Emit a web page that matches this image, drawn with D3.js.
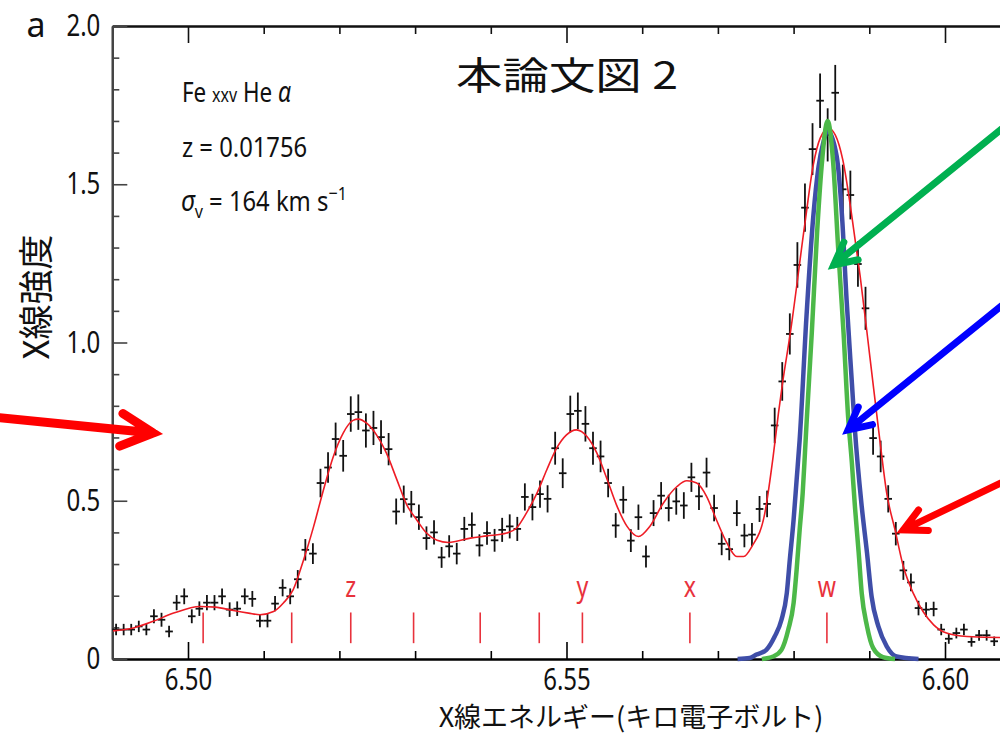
<!DOCTYPE html>
<html>
<head>
<meta charset="utf-8">
<script src="https://cdn.jsdelivr.net/npm/d3@7"></script>
<style>
body { margin: 0; background: #fff; }
svg text { font-family: "Noto Sans", "Open Sans", sans-serif; }
svg text.jp { font-family: "Noto Sans CJK JP", sans-serif; }
</style>
</head>
<body>
<svg id="chart" width="1000" height="734"></svg>
<script>
// spectrum bins, 1 eV wide, first bin centre
const BIN_START = 6.4905;
const BIN_WIDTH = 0.001;

const counts = [
  0.093, 0.093, 0.093, 0.103, 0.093, 0.135, 0.124, 0.087, 0.178, 0.198,
  0.135, 0.159, 0.178, 0.178, 0.198, 0.156, 0.159, 0.198, 0.190, 0.121,
  0.121, 0.175, 0.225, 0.198, 0.252, 0.345, 0.333, 0.556, 0.605, 0.695,
  0.642, 0.774, 0.780, 0.722, 0.730, 0.701, 0.663, 0.466, 0.505, 0.489,
  0.448, 0.382, 0.400, 0.321, 0.356, 0.333, 0.411, 0.424, 0.359, 0.398,
  0.375, 0.408, 0.419, 0.411, 0.512, 0.480, 0.521, 0.506, 0.666, 0.587,
  0.774, 0.784, 0.743, 0.666, 0.640, 0.556, 0.422, 0.503, 0.374, 0.448,
  0.324, 0.461, 0.516, 0.477, 0.498, 0.485, 0.574, 0.514, 0.589, 0.477,
  0.364, 0.347, 0.461, 0.390, 0.393, 0.474, 0.490, 0.738, 0.877, 1.027,
  1.245, 1.426, 1.611, 1.764, 1.656, 1.789, 1.484, 1.466, 1.248, 1.108,
  0.698, 0.640, 0.506, 0.396, 0.280, 0.242, 0.161, 0.156, 0.158, 0.093,
  0.064, 0.082, 0.093, 0.054, 0.075, 0.075, 0.056
];

// 1-sigma error per bin (half length of the vertical bars)
const errors = [
  0.018, 0.018, 0.018, 0.018, 0.018, 0.022, 0.022, 0.018, 0.024, 0.025,
  0.022, 0.023, 0.024, 0.024, 0.025, 0.023, 0.023, 0.025, 0.025, 0.021,
  0.021, 0.024, 0.027, 0.025, 0.029, 0.034, 0.033, 0.045, 0.048, 0.052,
  0.050, 0.056, 0.056, 0.054, 0.054, 0.053, 0.051, 0.041, 0.043, 0.042,
  0.040, 0.037, 0.038, 0.033, 0.035, 0.034, 0.038, 0.039, 0.035, 0.037,
  0.036, 0.038, 0.038, 0.038, 0.043, 0.042, 0.043, 0.043, 0.052, 0.047,
  0.058, 0.058, 0.056, 0.052, 0.050, 0.045, 0.039, 0.043, 0.036, 0.040,
  0.035, 0.041, 0.043, 0.042, 0.042, 0.042, 0.046, 0.043, 0.047, 0.042,
  0.036, 0.035, 0.041, 0.037, 0.037, 0.041, 0.042, 0.056, 0.061, 0.065,
  0.072, 0.076, 0.082, 0.086, 0.084, 0.088, 0.078, 0.077, 0.072, 0.068,
  0.053, 0.050, 0.043, 0.037, 0.030, 0.028, 0.023, 0.023, 0.023, 0.018,
  0.016, 0.017, 0.018, 0.015, 0.017, 0.017, 0.015
];

// best-fit model (red)
const modelEnergy = [
  6.4901, 6.4928, 6.4954, 6.4981, 6.5016, 6.5036, 6.5060, 6.5080, 6.5095, 6.5113,
  6.5126, 6.5139, 6.5152, 6.5166, 6.5179, 6.5192, 6.5205, 6.5218, 6.5225, 6.5236,
  6.5249, 6.5262, 6.5276, 6.5289, 6.5302, 6.5315, 6.5329, 6.5344, 6.5373, 6.5395,
  6.5421, 6.5434, 6.5447, 6.5461, 6.5474, 6.5487, 6.5500, 6.5513, 6.5527, 6.5540,
  6.5553, 6.5566, 6.5580, 6.5595, 6.5610, 6.5628, 6.5646, 6.5659, 6.5672, 6.5685,
  6.5698, 6.5712, 6.5725, 6.5734, 6.5745, 6.5762, 6.5773, 6.5780, 6.5786, 6.5795,
  6.5815, 6.5826, 6.5835, 6.5846, 6.5855, 6.5865, 6.5877, 6.5888, 6.5901, 6.5914,
  6.5923, 6.5934, 6.5945, 6.5958, 6.5971, 6.5985, 6.6002, 6.6029, 6.6073, 6.6100
];
const modelValue = [
  0.089, 0.098, 0.119, 0.145, 0.166, 0.164, 0.153, 0.145, 0.140, 0.150,
  0.177, 0.219, 0.308, 0.419, 0.535, 0.640, 0.714, 0.754, 0.758, 0.745,
  0.708, 0.651, 0.566, 0.487, 0.440, 0.398, 0.375, 0.368, 0.382, 0.389,
  0.398, 0.414, 0.461, 0.524, 0.598, 0.666, 0.708, 0.724, 0.703, 0.651,
  0.572, 0.487, 0.419, 0.387, 0.419, 0.493, 0.545, 0.563, 0.556, 0.514,
  0.440, 0.366, 0.324, 0.324, 0.356, 0.461, 0.640, 0.777, 0.882, 1.019,
  1.377, 1.561, 1.645, 1.677, 1.656, 1.577, 1.398, 1.208, 0.950, 0.690,
  0.524, 0.408, 0.292, 0.208, 0.150, 0.108, 0.082, 0.071, 0.068, 0.068
];

// resonance line w profile, broad (blue)
const blueEnergy = [
  6.5726, 6.5742, 6.5751, 6.5764, 6.5775, 6.5784, 6.5791, 6.5795, 6.5800, 6.5804,
  6.5808, 6.5817, 6.5826, 6.5833, 6.5839, 6.5845, 6.5857, 6.5864, 6.5870, 6.5877,
  6.5881, 6.5890, 6.5897, 6.5903, 6.5912, 6.5923, 6.5936, 6.5965
];
const blueValue = [
  0.000, 0.003, 0.014, 0.029, 0.071, 0.124, 0.208, 0.314, 0.440, 0.566,
  0.692, 1.082, 1.398, 1.556, 1.629, 1.670, 1.587, 1.398, 1.135, 0.872,
  0.724, 0.482, 0.335, 0.198, 0.103, 0.040, 0.008, 0.000
];

// resonance line w profile, narrow (green)
const greenEnergy = [
  6.5758, 6.5773, 6.5784, 6.5793, 6.5800, 6.5804, 6.5808, 6.5812, 6.5815, 6.5817,
  6.5824, 6.5831, 6.5837, 6.5845, 6.5852, 6.5859, 6.5866, 6.5872, 6.5877, 6.5881,
  6.5886, 6.5890, 6.5897, 6.5905, 6.5918, 6.5934
];
const greenValue = [
  0.000, 0.008, 0.029, 0.093, 0.177, 0.282, 0.408, 0.524, 0.651, 0.740,
  1.030, 1.346, 1.556, 1.700, 1.577, 1.293, 1.030, 0.766, 0.619, 0.482,
  0.335, 0.208, 0.103, 0.035, 0.006, 0.000
];

// line identifications
const lineEnergy = [6.5020, 6.5137, 6.5215, 6.5298, 6.5386, 6.5464, 6.5521, 6.5663, 6.5844];
const lineLabel  = ["", "", "z", "", "", "", "y", "x", "w"];

const xMajor = [6.50, 6.55, 6.60];
const yMajor = [0, 0.5, 1.0, 1.5, 2.0];

//////// scales ////////

const svg = d3.select("#chart");

const x = d3.scaleLinear().domain([6.49, 6.61]).range([112.3, 1020.7]);
const y = d3.scaleLinear().domain([0, 2]).range([659, 26]);

const xMinor = d3.range(6.49, 6.611, 0.01).filter(d => !xMajor.some(m => Math.abs(m - d) < 1e-6));
const yMinor = d3.range(0.1, 2.0, 0.1).filter(d => !yMajor.some(m => Math.abs(m - d) < 1e-6));

// the figure uses a condensed face: squeeze a humanist sans sideways
function narrow(k) {
  return function(sel) {
    sel.each(function() {
      const t = d3.select(this);
      const x0 = +t.attr("x") || 0;
      t.attr("x", x0 / k).attr("transform", "scale(" + k + ",1)");
    });
  };
}

//////// axes ////////

function styleAxis(g, width, color) {
  g.select(".domain").attr("stroke", color).attr("stroke-width", width);
  g.selectAll(".tick line").attr("stroke", color).attr("stroke-width", 1.6);
  g.selectAll(".tick text").attr("fill", "#111").attr("font-size", 30)
    .attr("font-family", "'Noto Sans', sans-serif")
    .call(narrow(0.8));
}

// bottom
svg.append("g").attr("transform", "translate(0," + y(0) + ")")
  .call(d3.axisBottom(x).tickValues(xMinor).tickSize(-8).tickSizeOuter(0).tickFormat(""))
  .call(g => styleAxis(g, 2.2, "#000"));
svg.append("g").attr("transform", "translate(0," + y(0) + ")")
  .call(d3.axisBottom(x).tickValues(xMajor).tickSize(-17).tickSizeOuter(0)
    .tickPadding(10).tickFormat(d3.format(".2f")))
  .call(g => styleAxis(g, 2.2, "#000"));

// top
svg.append("g").attr("transform", "translate(0," + y(2) + ")")
  .call(d3.axisTop(x).tickValues(xMinor).tickSize(-8).tickSizeOuter(0).tickFormat(""))
  .call(g => styleAxis(g, 2, "#111"));
svg.append("g").attr("transform", "translate(0," + y(2) + ")")
  .call(d3.axisTop(x).tickValues(xMajor).tickSize(-17).tickSizeOuter(0).tickFormat(""))
  .call(g => styleAxis(g, 2, "#111"));

// left
svg.append("g").attr("transform", "translate(" + x(6.49) + ",0)")
  .call(d3.axisLeft(y).tickValues(yMinor).tickSize(-7).tickSizeOuter(0).tickFormat(""))
  .call(g => styleAxis(g, 2.2, "#444"));
svg.append("g").attr("transform", "translate(" + x(6.49) + ",0)")
  .call(d3.axisLeft(y).tickValues(yMajor).tickSize(-15).tickSizeOuter(0).tickPadding(12)
    .tickFormat(d => d === 0 ? "0" : d3.format(".1f")(d)))
  .call(g => styleAxis(g, 2.2, "#444"));

//////// data crosses ////////

const bins = counts.map((v, i) => ({ e: BIN_START + i * BIN_WIDTH, v: v, err: errors[i] }));

const crosses = svg.append("g").attr("stroke", "#111").attr("stroke-width", 1.8);
crosses.selectAll(".ebar")
  .data(bins)
  .enter()
  .append("line")
  .attr("x1", d => x(d.e)).attr("x2", d => x(d.e))
  .attr("y1", d => y(d.v - d.err)).attr("y2", d => y(d.v + d.err));
crosses.selectAll(".hbar")
  .data(bins)
  .enter()
  .append("line")
  .attr("x1", d => x(d.e - BIN_WIDTH / 2)).attr("x2", d => x(d.e + BIN_WIDTH / 2))
  .attr("y1", d => y(d.v)).attr("y2", d => y(d.v));

//////// line ids ////////

svg.append("g").selectAll("line")
  .data(lineEnergy)
  .enter()
  .append("line")
  .attr("x1", d => x(d)).attr("x2", d => x(d))
  .attr("y1", y(0.147)).attr("y2", y(0.05))
  .attr("stroke", "#e8323c").attr("stroke-width", 1.6);

svg.append("g").selectAll("text")
  .data(lineEnergy.map((e, i) => ({ e: e, label: lineLabel[i] })).filter(d => d.label))
  .enter()
  .append("text")
  .attr("x", d => x(d.e))
  .attr("y", y(0.195))
  .attr("text-anchor", "middle")
  .attr("font-size", 29)
  .attr("fill", "#e8323c")
  .text(d => d.label)
  .call(narrow(0.8));

//////// curves ////////

function drawCurve(es, vs, color, width) {
  const line = d3.line()
    .x(d => x(d[0]))
    .y(d => y(d[1]))
    .curve(d3.curveMonotoneX);
  svg.append("path")
    .datum(es.map((e, i) => [e, vs[i]]))
    .attr("d", line)
    .attr("fill", "none")
    .attr("stroke", color)
    .attr("stroke-width", width)
    .attr("stroke-linejoin", "round");
}

drawCurve(modelEnergy, modelValue, "#ee1c25", 1.6);
drawCurve(blueEnergy, blueValue, "#3f4ea8", 4.5);
drawCurve(greenEnergy, greenValue, "#4cb848", 4.5);

//////// texts ////////

svg.append("text").attr("x", 36).attr("y", 37).attr("text-anchor", "middle")
  .attr("font-size", 34).attr("fill", "#111").text("a");

svg.append("text").attr("class", "jp").attr("x", 456).attr("y", 89)
  .attr("font-size", 37.5).attr("font-weight", 400)
  .attr("textLength", 222).attr("lengthAdjust", "spacingAndGlyphs")
  .attr("fill", "#111").text("本論文図 2");

const fe = svg.append("text").attr("x", 182).attr("y", 102).attr("font-size", 28).attr("fill", "#111");
fe.append("tspan").text("Fe ");
fe.append("tspan").attr("font-size", 20).text("xxv");
fe.append("tspan").text(" He ");
fe.append("tspan").attr("font-style", "italic").attr("font-size", 29).text("α");
fe.call(narrow(0.8));

svg.append("text").attr("x", 182).attr("y", 157).attr("font-size", 28).attr("fill", "#111")
  .text("z = 0.01756")
  .call(narrow(0.85));

const sig = svg.append("text").attr("x", 181).attr("y", 211).attr("font-size", 28).attr("fill", "#111");
sig.append("tspan").attr("font-style", "italic").attr("font-size", 29).text("σ");
sig.append("tspan").attr("font-size", 19).attr("dy", 7).text("v");
sig.append("tspan").attr("dy", -7).text(" = 164 km s");
sig.append("tspan").attr("font-size", 19).attr("dy", -11).text("−1");
sig.call(narrow(0.85));

svg.append("text").attr("class", "jp")
  .attr("transform", "translate(33,297) rotate(-90)")
  .attr("text-anchor", "middle").attr("dominant-baseline", "central")
  .attr("font-size", 35).attr("fill", "#111").text("X線強度");

svg.append("text").attr("class", "jp").attr("x", 631).attr("y", 727)
  .attr("text-anchor", "middle").attr("font-size", 27).attr("fill", "#111")
  .text("X線エネルギー(キロ電子ボルト)");

//////// arrows ////////

const arrows = [
  { tail: [6.4752, 0.762], tip: [6.4954, 0.714], color: "#ff0000", width: 9, arm: 36 },
  { tail: [6.6073, 1.671], tip: [6.5853, 1.245], color: "#00b050", width: 7, arm: 25 },
  { tail: [6.6073, 1.113], tip: [6.5872, 0.724], color: "#0000ff", width: 7, arm: 25 },
  { tail: [6.6073, 0.555], tip: [6.5945, 0.408], color: "#ff0000", width: 7, arm: 25 }
];

arrows.forEach(function(a) {
  const hx = x(a.tip[0]), hy = y(a.tip[1]);
  let tx = x(a.tail[0]), ty = y(a.tail[1]);
  const ang = Math.atan2(ty - hy, tx - hx);
  // run the shaft off the picture
  tx += Math.cos(ang) * 60;
  ty += Math.sin(ang) * 60;
  const th = 27 * Math.PI / 180;
  const a1 = [hx + a.arm * Math.cos(ang + th), hy + a.arm * Math.sin(ang + th)];
  const a2 = [hx + a.arm * Math.cos(ang - th), hy + a.arm * Math.sin(ang - th)];
  svg.append("path")
    .attr("d", "M" + tx + "," + ty + "L" + hx + "," + hy +
      "M" + a1[0] + "," + a1[1] + "L" + hx + "," + hy + "L" + a2[0] + "," + a2[1])
    .attr("fill", "none")
    .attr("stroke", a.color)
    .attr("stroke-width", a.width)
    .attr("stroke-linecap", "round")
    .attr("stroke-linejoin", "miter");
});
</script>
</body>
</html>
